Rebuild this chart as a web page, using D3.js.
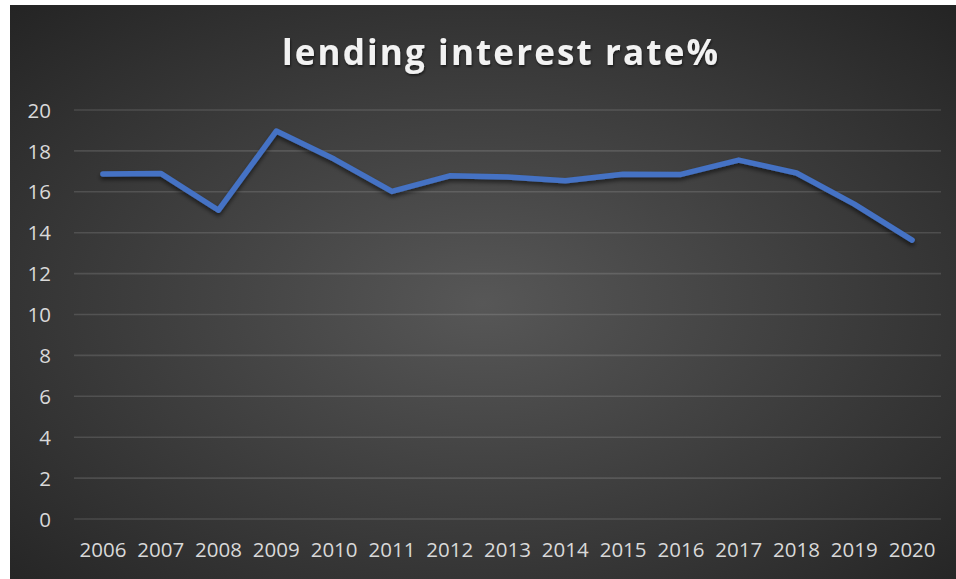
<!DOCTYPE html>
<html>
<head>
<meta charset="utf-8">
<script src="https://cdn.jsdelivr.net/npm/d3@7"></script>
<style>
  html, body { margin: 0; padding: 0; background: #ffffff; }
  svg { display: block; }
</style>
</head>
<body>
<svg id="chart" width="956" height="579"></svg>
<script>
// Lending interest rate (%) by year
const years = ["2006","2007","2008","2009","2010","2011","2012","2013","2014","2015","2016","2017","2018","2019","2020"];
const rates = [16.87, 16.9, 15.1, 18.97, 17.6, 16.02, 16.78, 16.72, 16.54, 16.86, 16.85, 17.55, 16.92, 15.4, 13.64];
const yTicks = [0, 2, 4, 6, 8, 10, 12, 14, 16, 18, 20];
const titleText = "lending interest rate%";

const W = 956, H = 579;
const svg = d3.select("#chart");
const defs = svg.append("defs");

// Background: soft radial glow from the centre to dark edges
const bg = defs.append("radialGradient").attr("id", "bgGrad")
  .attr("cx", "50%").attr("cy", "52%").attr("r", "72%");
bg.append("stop").attr("offset", "0%").attr("stop-color", "#575757");
bg.append("stop").attr("offset", "100%").attr("stop-color", "#242424");

const lineShadow = defs.append("filter").attr("id", "lineShadow")
  .attr("x", "-5%").attr("y", "-20%").attr("width", "110%").attr("height", "140%");
lineShadow.append("feDropShadow").attr("dx", 0).attr("dy", 3).attr("stdDeviation", 2.2)
  .attr("flood-color", "#000").attr("flood-opacity", 0.55);

const textShadow = defs.append("filter").attr("id", "textShadow")
  .attr("x", "-5%").attr("y", "-20%").attr("width", "110%").attr("height", "150%");
textShadow.append("feDropShadow").attr("dx", 0.8).attr("dy", 1.8).attr("stdDeviation", 1.3)
  .attr("flood-color", "#000").attr("flood-opacity", 0.55);

svg.append("rect").attr("x", 10).attr("y", 5).attr("width", W - 10).attr("height", H - 5)
  .attr("fill", "url(#bgGrad)");

const x = d3.scaleBand().domain(years).range([74, 941]);
const y = d3.scaleLinear().domain([0, 20]).range([519, 110]);

// Horizontal gridlines
svg.append("g").selectAll("line").data(yTicks).join("line")
  .attr("x1", 74).attr("x2", 941)
  .attr("y1", d => y(d)).attr("y2", d => y(d))
  .attr("stroke", "rgba(255,255,255,0.13)").attr("stroke-width", 1.6);

// Y axis labels
const yAxis = svg.append("g").attr("transform", "translate(51,0)")
  .call(d3.axisLeft(y).tickValues(yTicks).tickSize(0).tickPadding(0));
yAxis.select(".domain").remove();
yAxis.selectAll("text")
  .attr("fill", "#d9d9d9").attr("dy", "0.35em")
  .style("font-family", "'Open Sans', sans-serif").style("font-size", "20.5px");

// X axis labels
const xAxis = svg.append("g").attr("transform", "translate(0,557)")
  .call(d3.axisBottom(x).tickSize(0).tickPadding(0));
xAxis.select(".domain").remove();
xAxis.selectAll("text")
  .attr("fill", "#d9d9d9").attr("y", 0).attr("dy", null)
  .style("font-family", "'Open Sans', sans-serif").style("font-size", "20.5px");

// Data line
const line = d3.line()
  .x((d, i) => x(years[i]) + x.bandwidth() / 2)
  .y(d => y(d));
svg.append("path").datum(rates)
  .attr("d", line)
  .attr("fill", "none")
  .attr("stroke", "#4472C4")
  .attr("stroke-width", 5.5)
  .attr("stroke-linejoin", "round")
  .attr("stroke-linecap", "round")
  .attr("filter", "url(#lineShadow)");

// Title, spaced out to its measured width
const title = svg.append("text")
  .attr("x", 500).attr("y", 65)
  .attr("text-anchor", "middle")
  .attr("fill", "#f2f2f2")
  .attr("filter", "url(#textShadow)")
  .style("font-family", "'Open Sans', sans-serif")
  .style("font-weight", "bold")
  .style("font-size", "35px")
  .text(titleText);
const natural = title.node().getComputedTextLength();
const spacing = (436 - natural) / (titleText.length - 1);
title.style("letter-spacing", spacing + "px").attr("x", 500 + spacing / 2);
</script>
</body>
</html>
